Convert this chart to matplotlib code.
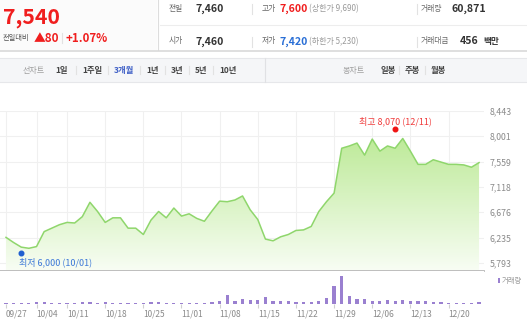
import matplotlib
matplotlib.use('Agg')
import matplotlib.pyplot as plt
import numpy as np
from matplotlib.patches import Rectangle, Polygon
from matplotlib.lines import Line2D
from matplotlib.colors import LinearSegmentedColormap
from matplotlib.transforms import offset_copy

plt.rcParams['font.family'] = ['Noto Sans CJK KR', 'DejaVu Sans']

# ---- data ----
dates = ['09/27', '09/30', '10/01', '10/02', '10/04', '10/07', '10/08', '10/10', '10/11',
         '10/14', '10/15', '10/16', '10/17', '10/18', '10/21', '10/22', '10/23', '10/24',
         '10/25', '10/28', '10/29', '10/30', '10/31', '11/01', '11/04', '11/05', '11/06',
         '11/07', '11/08', '11/11', '11/12', '11/13', '11/14', '11/15', '11/18', '11/19',
         '11/20', '11/21', '11/22', '11/25', '11/26', '11/27', '11/28', '11/29', '12/02',
         '12/03', '12/04', '12/05', '12/06', '12/09', '12/10', '12/11', '12/12', '12/13',
         '12/16', '12/17', '12/18', '12/19', '12/20', '12/23', '12/24', '12/26', '12/27']

close = [6240, 6150, 6070, 6050, 6080, 6340, 6400, 6460, 6500, 6490, 6600, 6850, 6690,
         6500, 6580, 6580, 6400, 6400, 6290, 6540, 6690, 6580, 6750, 6610, 6650, 6570,
         6520, 6700, 6870, 6860, 6890, 6960, 6720, 6550, 6210, 6180, 6250, 6290, 6360,
         6370, 6430, 6690, 6860, 7010, 7790, 7830, 7880, 7670, 7950, 7740, 7830, 7790,
         7960, 7740, 7510, 7510, 7590, 7550, 7510, 7510, 7500, 7460, 7540]

volume = [45000, 40000, 50000, 20000, 70000, 85000, 55000, 45000, 60000, 50000, 70000,
          90000, 55000, 65000, 40000, 30000, 50000, 55000, 45000, 70000, 65000, 55000,
          45000, 40000, 45000, 50000, 60000, 75000, 140000, 540000, 140000, 260000,
          200000, 240000, 400000, 160000, 180000, 180000, 100000, 100000, 80000, 140000,
          340000, 1060000, 1640000, 460000, 260000, 260000, 180000, 140000, 200000,
          160000, 200000, 140000, 180000, 160000, 100000, 80000, 60000, 60000, 60000,
          60000, 60871]

tick_dates = ['09/27', '10/04', '10/11', '10/18', '10/25', '11/01', '11/08', '11/15',
              '11/22', '11/29', '12/06', '12/13', '12/20']
price_ticks = [5793, 6235, 6676, 7118, 7559, 8001, 8443]

high_date, high_value = '12/11', 8070
low_date, low_value = '10/01', 6000

RED = '#f01e1e'
BLUE = '#2a6fd6'
DARK = '#333333'
GRAY = '#8c8c8c'

W, H = 527, 326


def fx(px):
    return px / W


def fy(py):
    return 1 - py / H


def label(x, y, s, size=6.0, color=DARK, weight='normal', ha='left'):
    fig.text(fx(x), fy(y), s, fontsize=size, color=color, fontweight=weight,
             ha=ha, va='center')


def vline(x, y0, y1, color='#e2e2e2', lw=0.8):
    fig.add_artist(Line2D([fx(x), fx(x)], [fy(y0), fy(y1)], color=color, lw=lw))


def hline(y, x0, x1, color='#e6e6e6', lw=0.8):
    fig.add_artist(Line2D([fx(x0), fx(x1)], [fy(y), fy(y)], color=color, lw=lw))


fig = plt.figure(figsize=(W / 100, H / 100), dpi=100)
fig.patch.set_facecolor('white')

# ---- header ----
fig.add_artist(Rectangle((0, fy(50)), fx(157), 50 / H, transform=fig.transFigure,
                         facecolor='#fbfbfb', edgecolor='none', zorder=0))
vline(157.5, 0, 50, color='#dddddd')
hline(25, 160, 527, color='#ededed')
hline(50.5, 0, 527, color='#d9d9d9', lw=1.2)

label(2.5, 17, '7,540', size=15.3, color=RED, weight='bold')
label(3, 38, '전일대비', size=5.2, color='#555555')
label(34, 38, '▲80', size=8.5, color=RED, weight='bold')
vline(62, 33, 43)
label(66, 38, '+1.07%', size=8.3, color=RED, weight='bold')

rows = [
    (8.5, [('전일', '7,460', DARK, None), ('고가', '7,600', RED, '(상한가 9,690)'),
           ('거래량', '60,871', DARK, None)]),
    (41.5, [('시가', '7,460', DARK, None), ('저가', '7,420', BLUE, '(하한가 5,230)'),
            ('거래대금', '456', DARK, None)]),
]
col_x = [(169, 195), (262, 280), (421, None)]
for y, cells in rows:
    for (name, val, col, extra), (xn, xv) in zip(cells, col_x):
        label(xn, y, name, size=5.6, color='#666666')
        if xv is None:
            xv = 452 if name == '거래량' else 460
        label(xv, y, val, size=7.6, color=col, weight='bold')
        if extra:
            label(xv + 29, y, extra, size=5.8, color='#9a9a9a')
    vline(252, y - 5, y + 5)
    vline(417, y - 5, y + 5)
label(483, 41.5, '백만', size=6.2, color=DARK, weight='bold')

# ---- period nav bar ----
fig.add_artist(Rectangle((0, fy(82)), 1, 24 / H, transform=fig.transFigure,
                         facecolor='#f5f6f8', edgecolor='none', zorder=0))
hline(58, 0, 527, color='#e6e7ea')
hline(82, 0, 527, color='#e6e7ea')
vline(265, 58, 82, color='#e0e1e4')
label(23, 70, '선차트', size=5.8, color='#a0a0a0')
nav = [(55, '1일'), (82, '1주일'), (114, '3개월'), (146, '1년'), (171, '3년'),
       (195, '5년'), (219, '10년')]
for i, (x, s) in enumerate(nav):
    label(x, 70, s, size=6.0, color='#3d5ec6' if s == '3개월' else '#444444',
          weight='bold')
    if i:
        vline(x - 6, 66, 74)
label(343, 70, '봉차트', size=5.8, color='#a0a0a0')
for i, (x, s) in enumerate([(381, '일봉'), (405, '주봉'), (431, '월봉')]):
    label(x, 70, s, size=6.0, color='#444444', weight='bold')
    if i:
        vline(x - 6, 66, 74)

# ---- price panel ----
idx = np.arange(len(dates))
tick_idx = [dates.index(d) for d in tick_dates]
xlim = (-6 / 7.63, (484 - 6) / 7.63)
ylim = (5655, 8443)

ax = fig.add_axes([0, fy(271), fx(484), (271 - 110.7) / H])
ax.set_xlim(*xlim)
ax.set_ylim(*ylim)
ax.set_axisbelow(True)
ax.grid(True, color='#f0f0f0', lw=0.8)
for side in ['top', 'left', 'right']:
    ax.spines[side].set_visible(False)
ax.spines['bottom'].set_color('#b9b9b9')
ax.spines['bottom'].set_linewidth(1.3)
ax.set_xticks(tick_idx)
ax.tick_params(axis='x', length=0, labelbottom=False)
ax.yaxis.tick_right()
ax.set_yticks(price_ticks)
ax.set_yticklabels([f'{v:,}' for v in price_ticks])
ax.tick_params(axis='y', length=0, pad=4.3, labelsize=6.3, labelcolor='#8a8a8a')

verts = [(idx[0], ylim[0])] + list(zip(idx, close)) + [(idx[-1], ylim[0])]
clip = Polygon(verts, facecolor='none', edgecolor='none')
ax.add_patch(clip)
cmap = LinearSegmentedColormap.from_list('fade', ['#f8fdf4', '#bdea98'])
grad = np.linspace(0, 1, 256).reshape(-1, 1)
img = ax.imshow(grad, extent=[idx[0], idx[-1], ylim[0], 8000], origin='lower',
                aspect='auto', cmap=cmap, zorder=1, interpolation='bilinear')
img.set_clip_path(clip)
ax.set_xlim(*xlim)
ax.set_ylim(*ylim)
ax.plot(idx, close, color='#8fd66c', lw=1.1, zorder=3, solid_joinstyle='round')

hi = dates.index(high_date)
lo = dates.index(low_date)
ax.plot(hi, high_value, 'o', ms=3.3, color='#f01414', zorder=4,
        transform=offset_copy(ax.transData, fig=fig, y=2, units='points'))
ax.annotate(f'최고 {high_value:,} ({high_date})', xy=(hi, high_value), xytext=(0, 7.6),
            textcoords='offset points', ha='center', va='center', fontsize=6.5,
            color='#f03c3c')
ax.plot(lo, low_value, 'o', ms=3.3, color='#1f5fd0', zorder=4,
        transform=offset_copy(ax.transData, fig=fig, y=-1.5, units='points'))
ax.annotate(f'최저 {low_value:,} ({low_date})', xy=(lo, low_value), xytext=(-1.5, -7.8),
            textcoords='offset points', ha='left', va='center', fontsize=6.5,
            color='#3c78d8')

# ---- volume panel ----
ax2 = fig.add_axes([0, fy(303.5), fx(484), 32.5 / H])
ax2.bar(idx, volume, width=0.42, color='#9a80d0')
ax2.set_xlim(*xlim)
ax2.set_ylim(0, 1.95e6)
for side in ax2.spines:
    ax2.spines[side].set_visible(False)
ax2.set_yticks([])
ax2.set_xticks(tick_idx)
ax2.set_xticklabels(tick_dates, ha='left')
ax2.tick_params(axis='x', length=3, color='#d0d0d0', labelsize=6.0,
                labelcolor='#8a8a8a', pad=1.2)
fig.add_artist(Rectangle((fx(498), fy(283)), fx(2), 5 / H, transform=fig.transFigure,
                         facecolor='#9a80d0', edgecolor='none'))
label(502, 280.5, '거래량', size=5.3, color='#9a9a9a')

fig.savefig('out.png', dpi=100)
